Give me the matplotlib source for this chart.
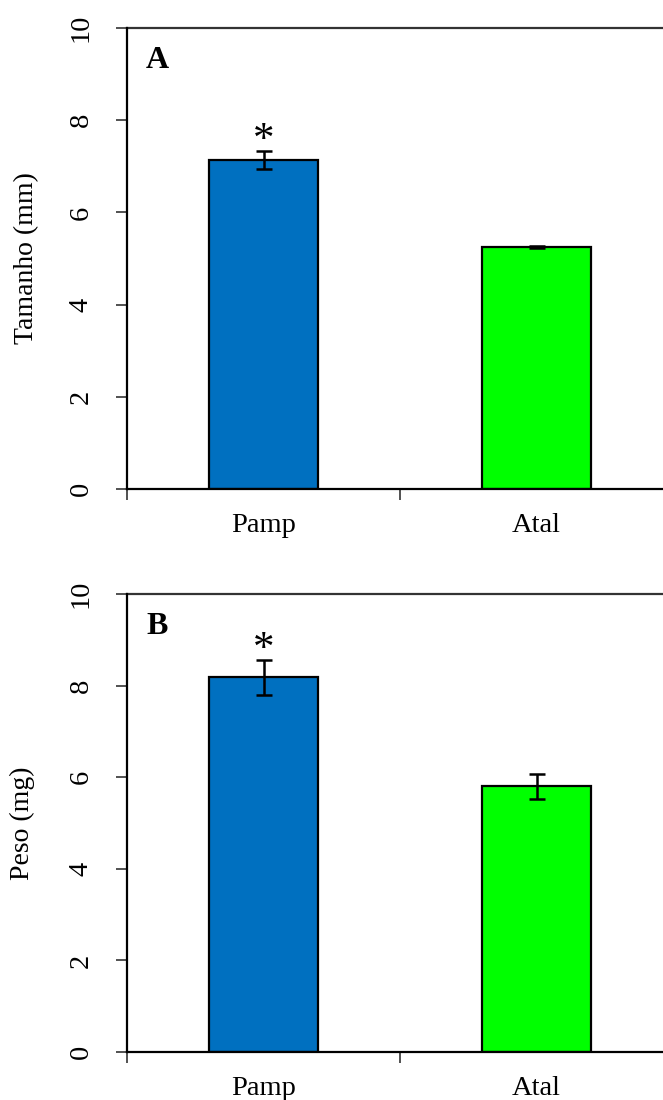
import matplotlib
matplotlib.use("Agg")
import matplotlib.pyplot as plt
from matplotlib.ticker import FixedLocator

plt.rcParams['font.family'] = ['Liberation Serif', 'DejaVu Serif']

categories = ["Pamp", "Atal"]
tamanho_mean = [7.14, 5.25]
tamanho_err = [0.20, 0.03]
peso_mean = [8.18, 5.80]
peso_err = [0.38, 0.28]
bar_colors = ["#0070C0", "#00FF00"]
y_ticks = [0, 2, 4, 6, 8, 10]
panel_labels = ["A", "B"]
y_labels = ["Tamanho (mm)", "Peso (mg)"]
signif = ["*", ""]

fig = plt.figure(figsize=(6.63, 11), dpi=100)
W, H = 663, 1100
boxes = [(127, 28, 673, 489), (127, 594, 673, 1052)]
label_x = [-0.183, -0.192]
datasets = [(tamanho_mean, tamanho_err), (peso_mean, peso_err)]

for i, (box, (means, errs)) in enumerate(zip(boxes, datasets)):
    x0, y0, x1, y1 = box
    ax = fig.add_axes([x0 / W, 1 - y1 / H, (x1 - x0) / W, (y1 - y0) / H])
    xs = list(range(len(categories)))
    ax.bar(xs, means, width=0.40, color=bar_colors, edgecolor='black',
           linewidth=1.6, zorder=2)
    ax.errorbar(xs, means, yerr=errs, fmt='none', ecolor='black',
                elinewidth=1.8, capsize=6, capthick=1.8, zorder=3)
    for x, m, e, s in zip(xs, means, errs, signif):
        if s:
            ax.text(x, m + e + 0.22, s, ha='center', va='center',
                    fontsize=31, zorder=4)
    ax.set_xlim(-0.5, 1.5)
    ax.set_ylim(0, 10)
    ax.axhline(10, color='#333333', lw=1.6, zorder=1, clip_on=False)
    ax.set_yticks(y_ticks)
    ax.set_yticklabels([str(t) for t in y_ticks], rotation=90, va='center',
                       fontsize=20.5)
    ax.tick_params(axis='y', direction='out', length=8, width=1.2, pad=16,
                   color='#333333')
    ax.set_xticks(xs)
    ax.set_xticklabels(categories, fontsize=20.5)
    ax.xaxis.set_minor_locator(FixedLocator([-0.5, 0.5, 1.5]))
    ax.tick_params(axis='x', which='major', length=0, pad=17)
    ax.tick_params(axis='x', which='minor', direction='out', length=8,
                   width=1.2, color='#333333')
    for side in ['top', 'right']:
        ax.spines[side].set_visible(False)
    for side in ['left', 'bottom']:
        ax.spines[side].set_linewidth(1.6)
        ax.spines[side].set_color('black')
    ax.set_ylabel(y_labels[i], fontsize=20, va='center')
    ax.yaxis.set_label_coords(label_x[i], 0.5)
    ax.text(0.055, 0.93, panel_labels[i], transform=ax.transAxes,
            fontsize=23, fontweight='bold', ha='center', va='center')

fig.savefig("out.png", dpi=100)
